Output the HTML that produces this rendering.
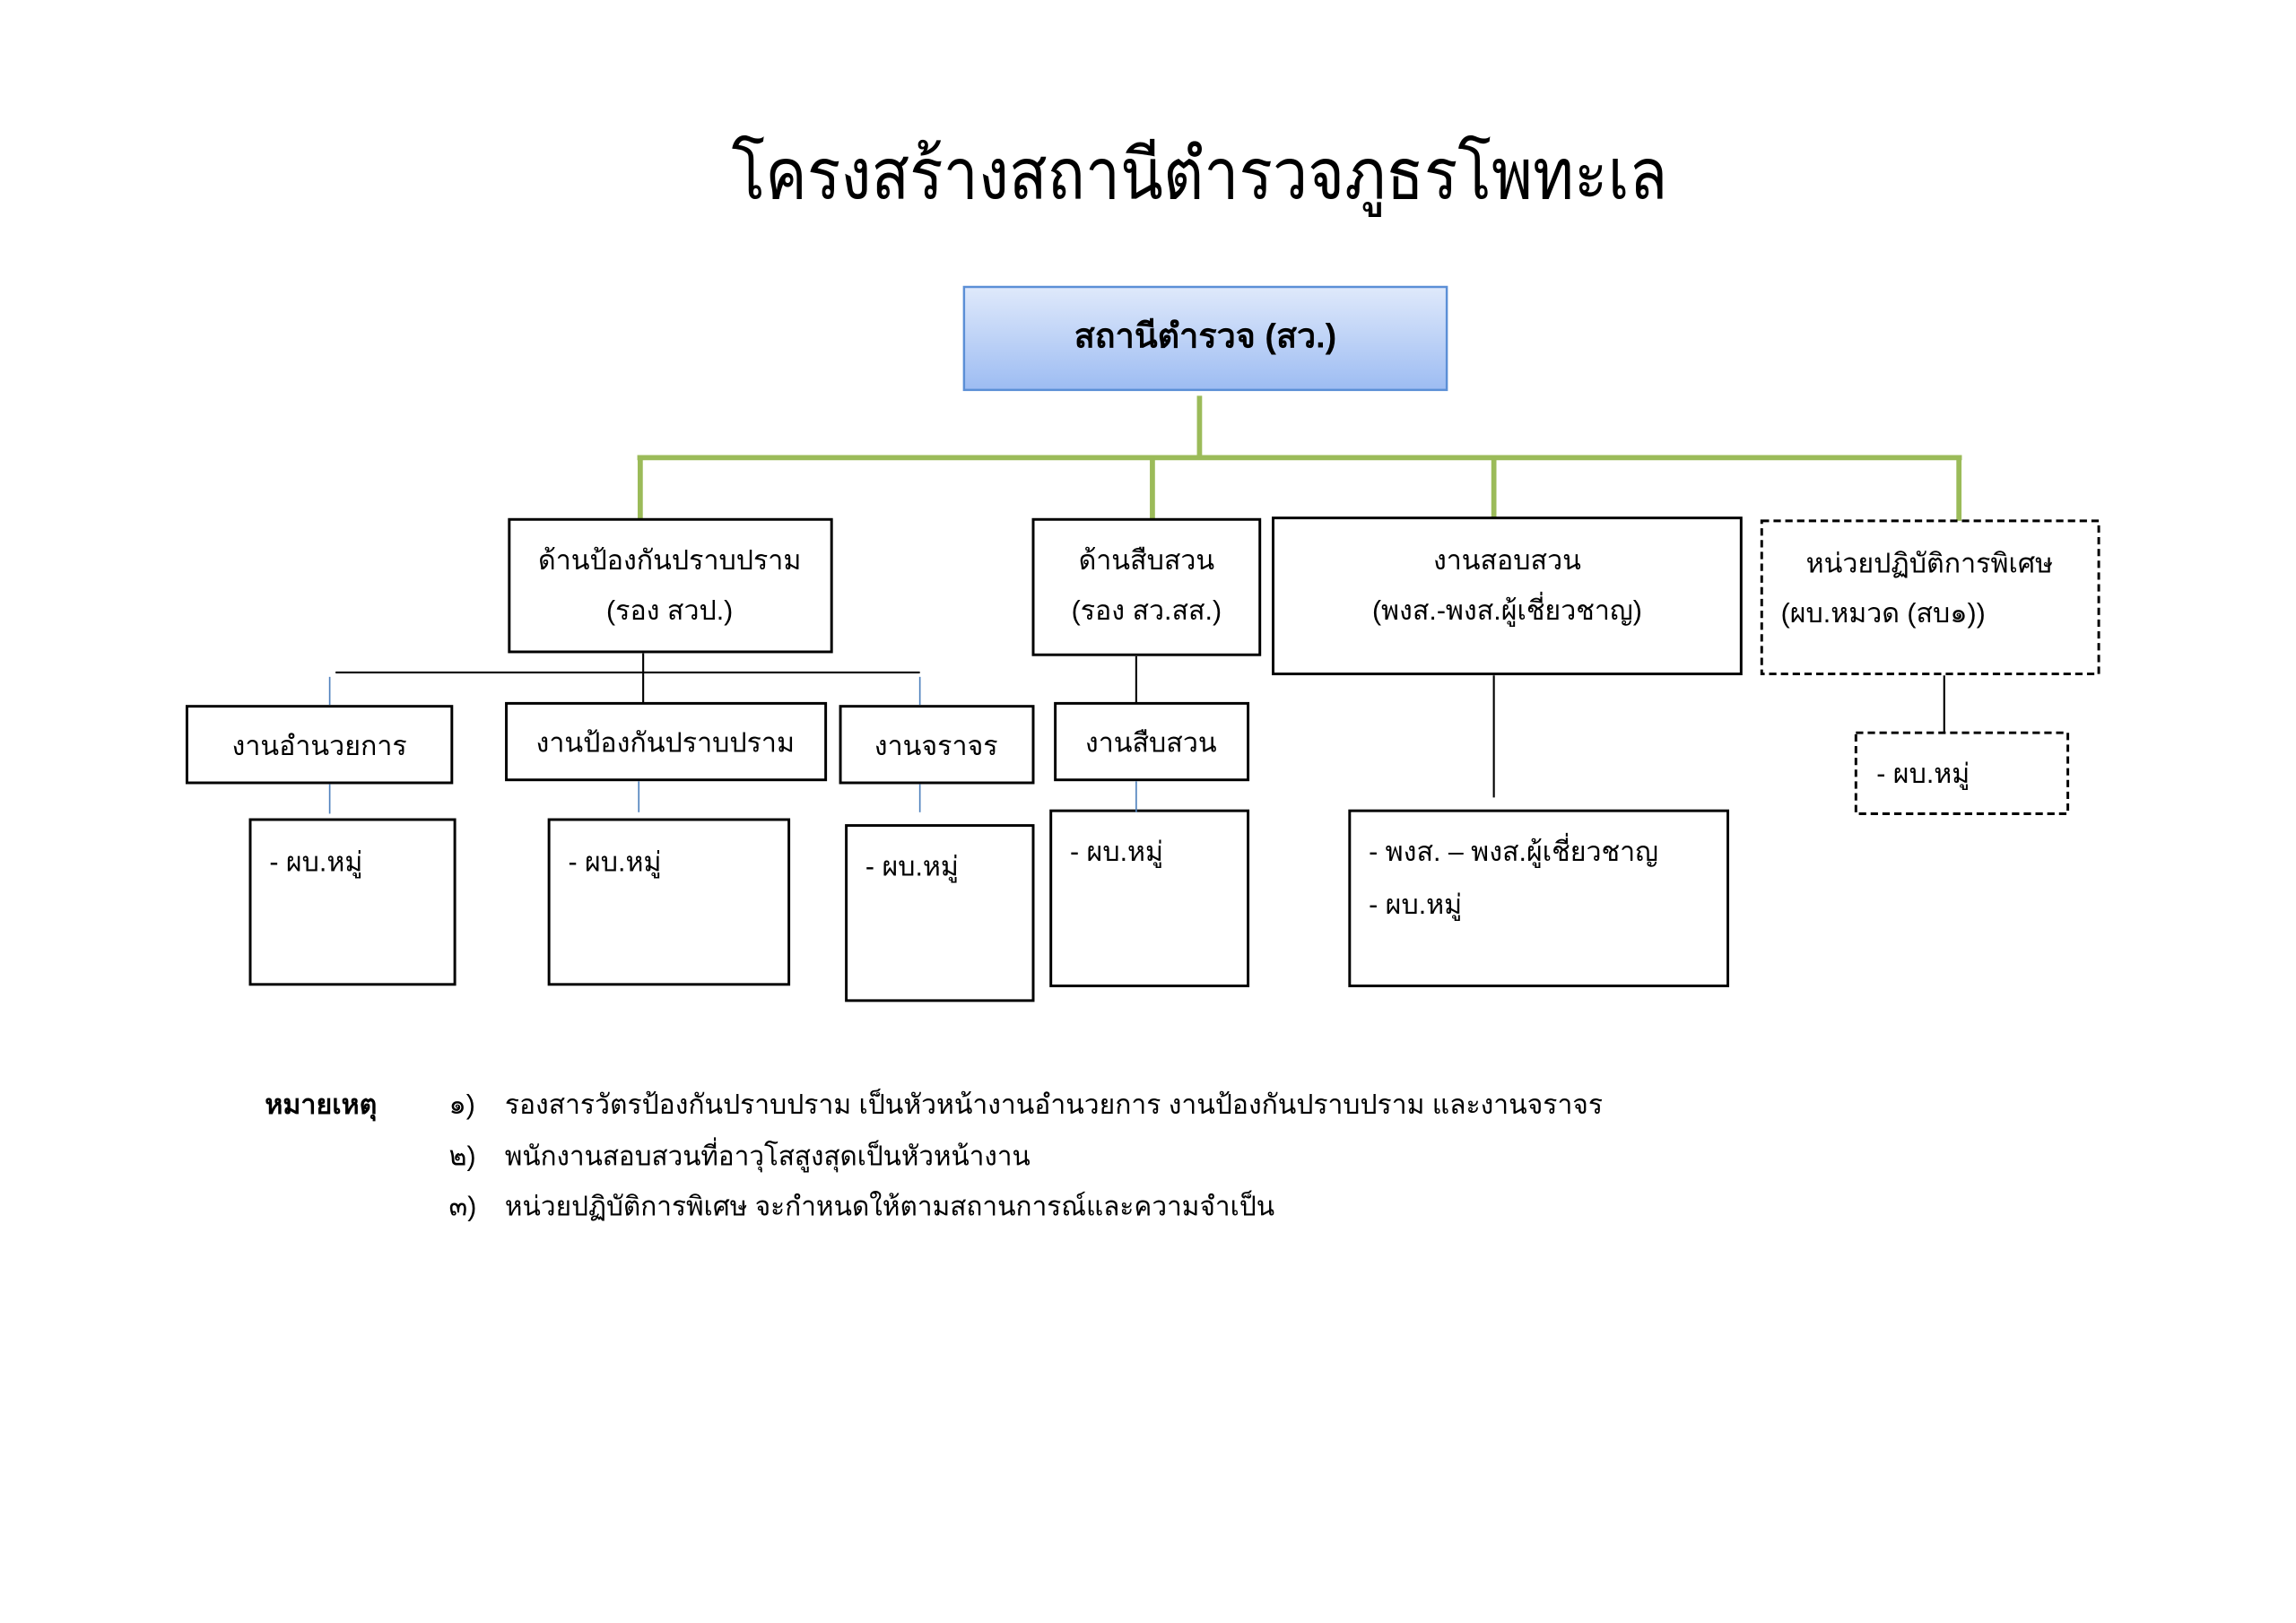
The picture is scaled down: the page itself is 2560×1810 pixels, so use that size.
<!DOCTYPE html>
<html><head><meta charset="utf-8"><style>
html,body{margin:0;padding:0;background:#fff;}
svg{display:block;}
text{font-family:"Liberation Sans","DejaVu Sans","Noto Sans CJK SC",sans-serif;fill:#000;}
</style></head><body>
<svg width="2560" height="1810" viewBox="0 0 1560 1103" xmlns="http://www.w3.org/2000/svg">
<defs>
<linearGradient id="g" x1="0" y1="0" x2="0" y2="1">
<stop offset="0" stop-color="#dfe9fb"/><stop offset="1" stop-color="#9dbcf2"/>
</linearGradient>
</defs>
<rect width="1560" height="1103" fill="#fff"/>
<text x="497" y="135" font-size="48" textLength="636" lengthAdjust="spacingAndGlyphs">โครงสร้างสถานีตำรวจภูธรโพทะเล</text>

<rect x="655" y="195" width="328" height="70" fill="url(#g)" stroke="#5b8fd6" stroke-width="1.5"/>
<text x="819" y="236" font-size="23" font-weight="bold" text-anchor="middle">สถานีตำรวจ (สว.)</text>

<g stroke="#9bbb59" stroke-width="3.5" fill="none">
<line x1="815" y1="269" x2="815" y2="311"/>
<line x1="433" y1="311" x2="1333" y2="311"/>
<line x1="435" y1="311" x2="435" y2="353"/>
<line x1="783" y1="311" x2="783" y2="353"/>
<line x1="1015" y1="311" x2="1015" y2="352"/>
<line x1="1331" y1="311" x2="1331" y2="354"/>
</g>

<g fill="#fff" stroke="#000" stroke-width="1.8">
<rect x="346" y="353" width="219" height="90"/>
<rect x="702" y="353" width="154" height="92"/>
<rect x="865" y="352" width="318" height="106"/>
<rect x="127" y="480" width="180" height="52"/>
<rect x="344" y="478" width="217" height="52"/>
<rect x="571" y="480" width="131" height="52"/>
<rect x="717" y="478" width="131" height="52"/>
<rect x="170" y="557" width="139" height="112"/>
<rect x="373" y="557" width="163" height="112"/>
<rect x="575" y="561" width="127" height="119"/>
<rect x="714" y="551" width="134" height="119"/>
<rect x="917" y="551" width="257" height="119"/>
</g>
<g fill="#fff" stroke="#000" stroke-width="1.8" stroke-dasharray="5,3">
<rect x="1197" y="354" width="229" height="104"/>
<rect x="1261" y="498" width="144" height="55"/>
</g>

<g stroke="#000" stroke-width="1.3">
<line x1="228" y1="457" x2="625" y2="457"/>
<line x1="437" y1="444" x2="437" y2="478"/>
<line x1="772" y1="446" x2="772" y2="478"/>
<line x1="1015" y1="459" x2="1015" y2="542"/>
<line x1="1321" y1="459" x2="1321" y2="498"/>
</g>
<g stroke="#4f81bd" stroke-width="1">
<line x1="224" y1="460" x2="224" y2="479"/>
<line x1="625" y1="460" x2="625" y2="479"/>
<line x1="224" y1="533" x2="224" y2="553"/>
<line x1="434" y1="531" x2="434" y2="552"/>
<line x1="625" y1="533" x2="625" y2="552"/>
<line x1="772" y1="531" x2="772" y2="552"/>
</g>

<g font-size="18.5">
<text x="455" y="387" text-anchor="middle">ด้านป้องกันปราบปราม</text>
<text x="455" y="421" text-anchor="middle">(รอง สวป.)</text>
<text x="779" y="387" text-anchor="middle">ด้านสืบสวน</text>
<text x="779" y="421" text-anchor="middle">(รอง สว.สส.)</text>
<text x="1024" y="387" text-anchor="middle">งานสอบสวน</text>
<text x="1024" y="421" text-anchor="middle">(พงส.-พงส.ผู้เชี่ยวชาญ)</text>
<text x="1311" y="389" text-anchor="middle">หน่วยปฏิบัติการพิเศษ</text>
<text x="1210" y="423">(ผบ.หมวด (สบ๑))</text>
<text x="217" y="513" text-anchor="middle">งานอำนวยการ</text>
<text x="452" y="511" text-anchor="middle">งานป้องกันปราบปราม</text>
<text x="636" y="513" text-anchor="middle">งานจราจร</text>
<text x="782" y="511" text-anchor="middle">งานสืบสวน</text>
<text x="183" y="592">- ผบ.หมู่</text>
<text x="386" y="592">- ผบ.หมู่</text>
<text x="588" y="595">- ผบ.หมู่</text>
<text x="727" y="585">- ผบ.หมู่</text>
<text x="930" y="585">- พงส. – พงส.ผู้เชี่ยวชาญ</text>
<text x="930" y="621">- ผบ.หมู่</text>
<text x="1275" y="532">- ผบ.หมู่</text>
</g>

<g font-size="18.5">
<text x="180" y="757" font-weight="bold">หมายเหตุ</text>
<text x="305" y="757">๑)</text>
<text x="343" y="757" textLength="746" lengthAdjust="spacingAndGlyphs">รองสารวัตรป้องกันปราบปราม เป็นหัวหน้างานอำนวยการ งานป้องกันปราบปราม และงานจราจร</text>
<text x="305" y="792">๒)</text>
<text x="343" y="792" textLength="357" lengthAdjust="spacingAndGlyphs">พนักงานสอบสวนที่อาวุโสสูงสุดเป็นหัวหน้างาน</text>
<text x="305" y="826">๓)</text>
<text x="343" y="826" textLength="523" lengthAdjust="spacingAndGlyphs">หน่วยปฏิบัติการพิเศษ จะกำหนดให้ตามสถานการณ์และความจำเป็น</text>
</g>
</svg>
</body></html>
